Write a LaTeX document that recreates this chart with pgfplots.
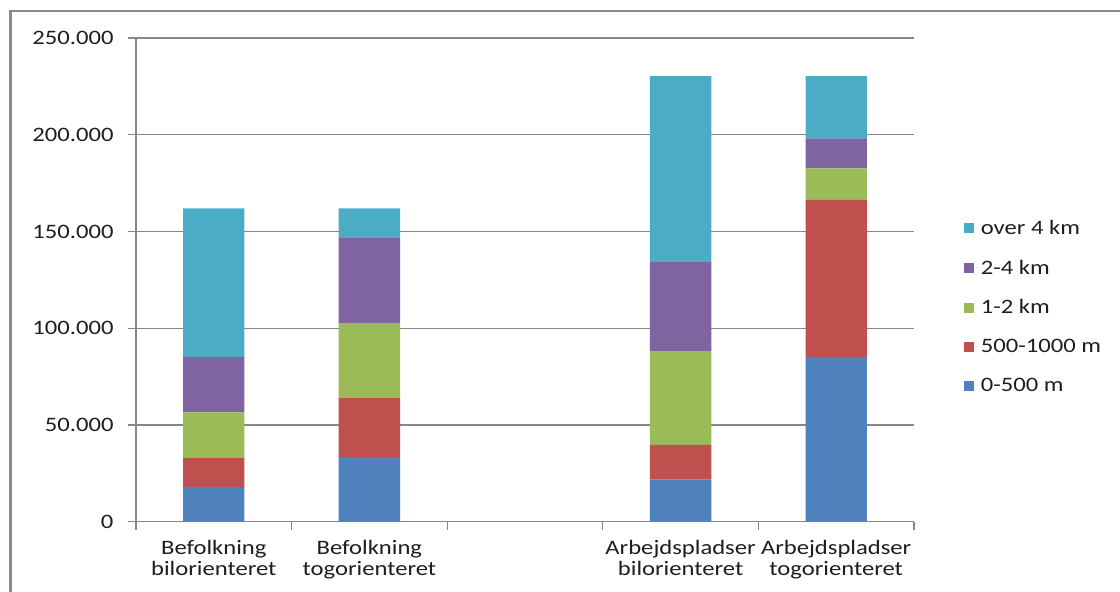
\documentclass[border=0pt]{standalone}
\usepackage{fontspec}
\setmainfont{Carlito}[FakeStretch=1.2]
\usepackage{pgfplots}
\pgfplotsset{compat=1.18}
\definecolor{cA}{HTML}{4F81BD}
\definecolor{cB}{HTML}{C0504D}
\definecolor{cC}{HTML}{9BBB59}
\definecolor{cD}{HTML}{8064A2}
\definecolor{cE}{HTML}{4BACC6}
\definecolor{axgray}{HTML}{878787}
\definecolor{framegray}{HTML}{8A8A8A}
\definecolor{txt}{HTML}{1E1E1E}
\newcommand{\chartfont}{\fontsize{20.6}{21.5}\selectfont}
\begin{document}
\begin{tikzpicture}
\path[use as bounding box] (0,0) rectangle (1120bp,592bp);
\draw[line width=2.7bp, color=framegray] (10.8bp,0) -- (10.8bp,581bp) -- (1120bp,581bp);
\begin{axis}[
  at={(136bp,70.3bp)}, anchor=south west,
  width=778bp, height=483.7bp, scale only axis,
  xmin=-0.5, xmax=4.5, ymin=0, ymax=250000,
  ybar stacked, bar width=0.394,
  axis lines*=left,
  axis line style={draw=axgray, line width=1.3bp},
  ytick={0,50000,100000,150000,200000,250000},
  scaled y ticks=false,
  yticklabel style={/pgf/number format/.cd, fixed, precision=0, 1000 sep={.}, assume math mode=true, /tikz/.cd, xshift=-11bp},
  ymajorgrids, grid style={draw=axgray, line width=1.2bp},
  tick align=outside, major tick length=8bp,
  tick style={draw=axgray, line width=1.3bp},
  xtick={-0.5,0.5,1.5,2.5,3.5,4.5}, xticklabels={},
  extra x ticks={0,1,3,4},
  extra x tick labels={Befolkning\\bilorienteret, Befolkning\\togorienteret, Arbejdspladser\\bilorienteret, Arbejdspladser\\togorienteret},
  extra x tick style={major tick length=0pt, grid=none},
  tick label style={font=\chartfont, text=txt},
  xticklabel style={align=center, yshift=-15bp},
  reverse legend,
  legend style={draw=none, fill=none, at={(axis description cs:1.06,0.632)}, anchor=north west,
    font=\chartfont, text=txt, row sep=20bp, cells={anchor=west}},
  legend image code/.code={\fill[#1] (0bp,-5bp) rectangle (10bp,5bp); \path (0bp,0bp) -- (15bp,0bp);},
]
\addplot[fill=cA, draw=none] coordinates {(0,18000) (1,33400) (3,21800) (4,85200)};
\addplot[fill=cB, draw=none] coordinates {(0,15000) (1,30500) (3,17900) (4,81100)};
\addplot[fill=cC, draw=none] coordinates {(0,23500) (1,38500) (3,48400) (4,16300)};
\addplot[fill=cD, draw=none] coordinates {(0,28700) (1,44100) (3,46100) (4,15500)};
\addplot[fill=cE, draw=none] coordinates {(0,76800) (1,15500) (3,96100) (4,32200)};
\legend{0-500 m, 500-1000 m, 1-2 km, 2-4 km, over 4 km}
\end{axis}
\end{tikzpicture}
\end{document}
